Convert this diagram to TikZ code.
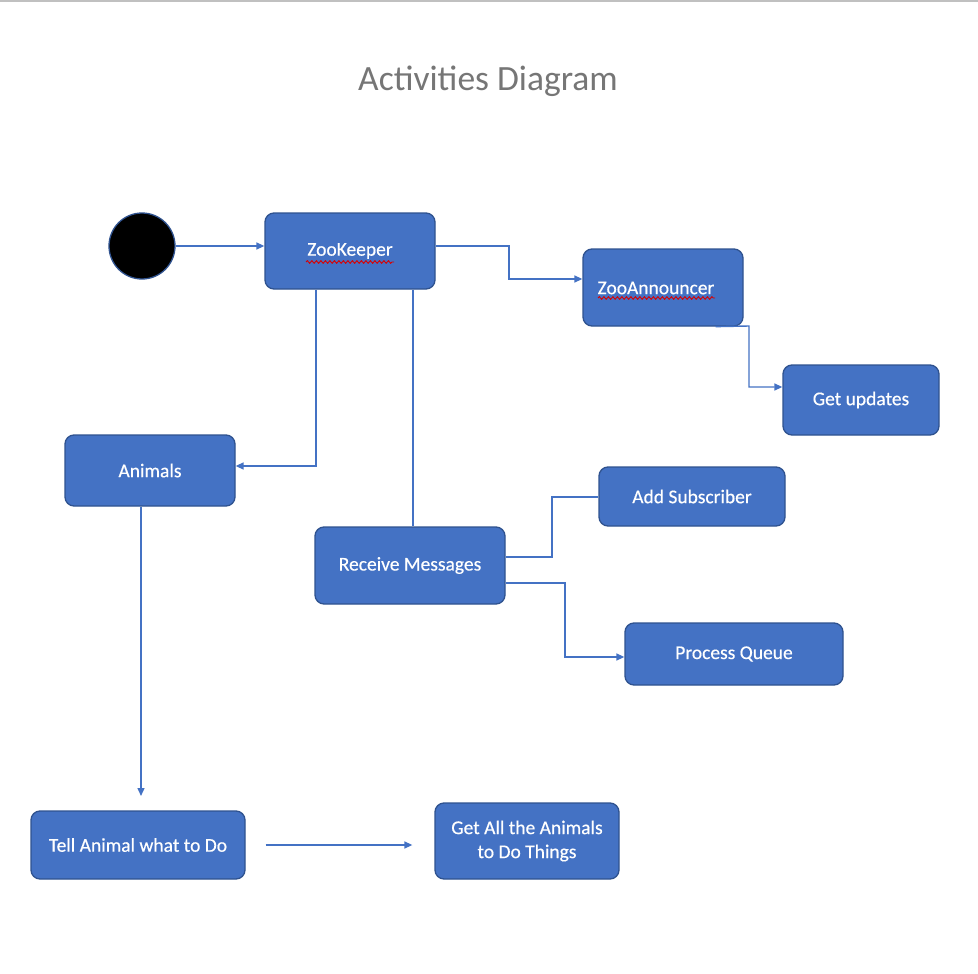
\documentclass[tikz,border=0pt]{standalone}
\usepackage{fontspec}
\setmainfont{Carlito}
\newfontfamily\boxfont[FakeBold=0.4]{Carlito}
\usetikzlibrary{arrows.meta,decorations.pathmorphing}
\definecolor{boxfill}{HTML}{4472C4}
\definecolor{boxline}{HTML}{2F528F}
\definecolor{titlegray}{HTML}{767676}
\definecolor{topgray}{HTML}{C0C0C0}
\tikzset{
  box/.style={draw=boxline, fill=boxfill, line width=1.3pt, rounded corners=9pt, text=white, font=\boxfont\fontsize{19.5}{24}\selectfont, align=center, inner sep=0pt},
  txt/.style={text=white, font=\boxfont\fontsize{19.5}{24}\selectfont, inner sep=0pt},
  conn/.style={draw=boxfill, line width=1.4pt},
  arr/.style={conn, -{Triangle[length=8pt,width=7pt]}},
  squig/.style={draw=red!85!black, line width=0.9pt, decorate, decoration={snake, amplitude=1.3pt, segment length=4.5pt}}
}
\begin{document}
\begin{tikzpicture}[x=1pt,y=-1pt]
\useasboundingbox (0,0) rectangle (978,974);
\fill[white] (0,0) rectangle (978,974);
\fill[topgray] (0,0) rectangle (978,2.5);
\node[text=titlegray, font=\fontsize{35.5}{40}\selectfont] (title) at (488,81) {Activities Diagram};

\node[circle, fill=black, draw=boxline, line width=1.3pt, minimum size=66pt, inner sep=0pt] (start) at (142,246) {};

\node[box, minimum width=170pt, minimum height=76pt] (zk) at (350,251) {};
\node[txt] (zkt) at (350,251) {ZooKeeper};
\node[box, minimum width=160pt, minimum height=77pt] (za) at (663,287.5) {};
\node[txt] (zat) at (656,288) {ZooAnnouncer};
\node[box, minimum width=156pt, minimum height=70pt] (gu) at (861,400) {Get updates};
\node[box, minimum width=170pt, minimum height=71pt] (an) at (150,470.5) {Animals};
\node[box, minimum width=186pt, minimum height=59pt] (as) at (692,496.5) {Add Subscriber};
\node[box, minimum width=190pt, minimum height=77pt] (rm) at (410,565.5) {Receive Messages};
\node[box, minimum width=218pt, minimum height=62pt] (pq) at (734,654) {Process Queue};
\node[box, minimum width=214pt, minimum height=68pt] (ta) at (138,845) {Tell Animal what to Do};
\node[box, minimum width=184pt, minimum height=76pt] (ga) at (527,841) {Get All the Animals\\to Do Things};

% spell-check squiggles
\draw[squig] ([xshift=-44pt,yshift=-11pt]zkt.center) -- ([xshift=44pt,yshift=-11pt]zkt.center);
\draw[squig] ([xshift=-58pt,yshift=-10pt]zat.center) -- ([xshift=59pt,yshift=-10pt]zat.center);

% connectors
\draw[arr] (start.east) -- (zk.west |- start.east);
\draw[arr] (zk.east |- 0,246) -| (509,279) -- (za.west |- 0,279);
\draw[arr] ([xshift=-28pt]za.south east) -- (749,326) |- (gu.west |- 0,387);
\draw[arr] (zk.south -| 316,0) |- (an.east |- 0,466);
\draw[conn] (zk.south -| 413,0) -- (rm.north -| 413,0);
\draw[conn] (rm.east |- 0,557) -| (552,497) -- (as.west |- 0,497);
\draw[arr] (rm.east |- 0,583) -| (565,657) -- (pq.west |- 0,657);
\coordinate (anend) at (141,796);
\draw[arr] (an.south -| 141,0) -- (anend);
\coordinate (tas) at ([xshift=20pt]ta.east);
\coordinate (tae) at ([xshift=-22pt]ga.west |- tas);
\draw[arr] (tas) -- (tae);
\end{tikzpicture}
\end{document}
